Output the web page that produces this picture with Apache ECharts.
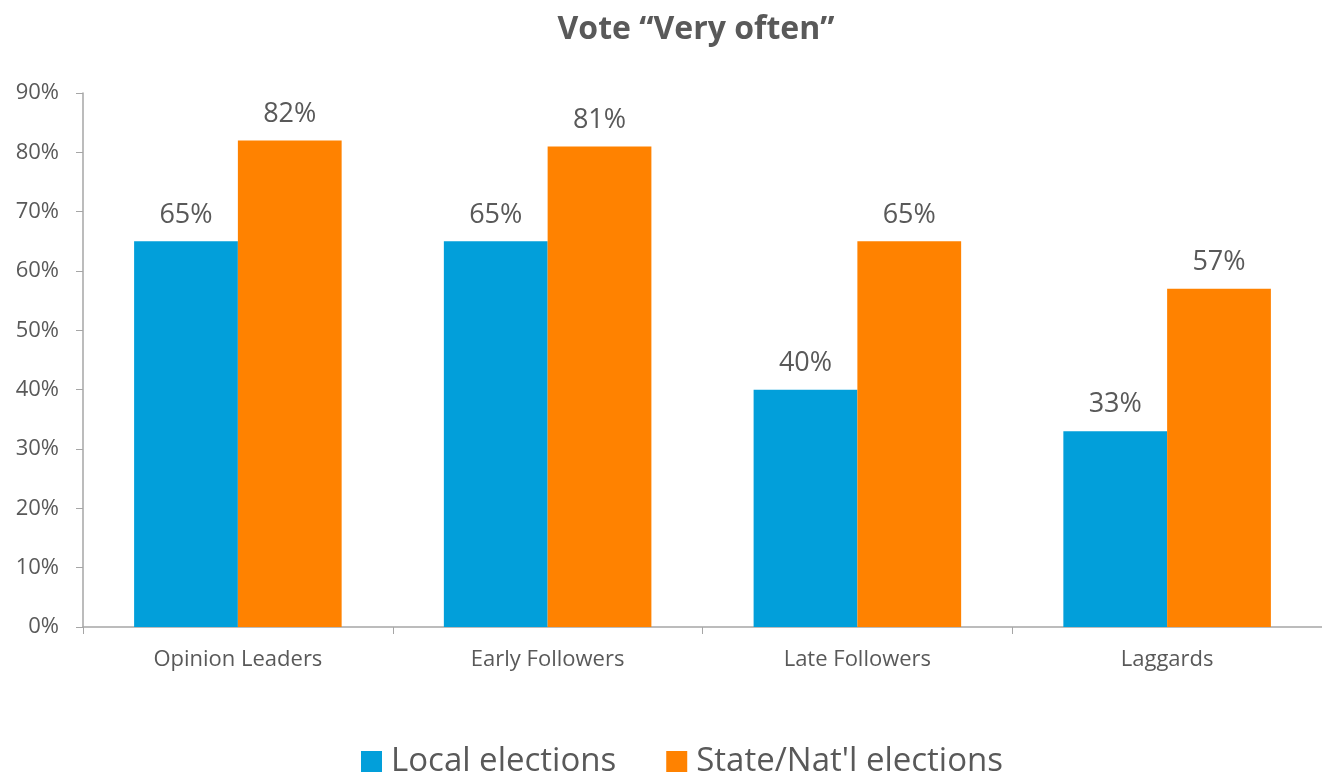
<!DOCTYPE html>
<html>
<head>
<meta charset="utf-8">
<script src="https://cdn.jsdelivr.net/npm/echarts@6/dist/echarts.min.js"></script>
<style>
  html, body { margin: 0; padding: 0; background: #fff; }
  #chart { width: 1322px; height: 775px; }
</style>
</head>
<body>
<div id="chart"></div>
<script>
let categories = ['Opinion Leaders', 'Early Followers', 'Late Followers', 'Laggards'];
let localElections = [65, 65, 40, 33];
let stateElections = [82, 81, 65, 57];
let seriesNames = ['Local elections', "State/Nat'l elections"];

let textColor = '#595959';
let font = '"Open Sans", "Noto Sans", sans-serif';

let myChart = echarts.init(document.getElementById('chart'));

let option = {
    animation: false,
    title: {
        text: 'Vote \u201cVery often\u201d',
        left: 691,
        textAlign: 'center',
        top: 9,
        textStyle: { fontFamily: font, fontSize: 32, fontWeight: 'bold', color: textColor }
    },
    legend: {
        top: 740,
        left: 356,
        itemWidth: 21,
        itemHeight: 21,
        itemGap: 50,
        icon: 'rect',
        textStyle: { fontFamily: font, fontSize: 33, color: textColor, padding: [0, 0, 0, 4] },
        data: seriesNames
    },
    grid: {
        left: 83,
        right: 0,
        top: 93,
        bottom: 148
    },
    xAxis: {
        type: 'category',
        data: categories,
        axisLine: { lineStyle: { color: '#a6a6a6', width: 1.5 } },
        axisTick: { show: true, length: 7, lineStyle: { color: '#a6a6a6' } },
        axisLabel: { fontFamily: font, fontSize: 22, color: textColor, margin: 22 }
    },
    yAxis: {
        type: 'value',
        min: 0,
        max: 90,
        interval: 10,
        splitLine: { show: false },
        axisLine: { show: true, lineStyle: { color: '#a6a6a6', width: 1.5 } },
        axisTick: { show: true, length: 7, lineStyle: { color: '#a6a6a6' } },
        axisLabel: { fontFamily: font, fontSize: 22, color: textColor, margin: 24, formatter: '{value}%' }
    },
    series: [
        {
            name: seriesNames[0],
            type: 'bar',
            data: localElections,
            barGap: '0%',
            barCategoryGap: '33%',
            itemStyle: { color: '#029FDA' },
            label: {
                show: true, position: 'top', distance: 13,
                formatter: '{c}%', fontFamily: font, fontSize: 27, color: textColor
            }
        },
        {
            name: seriesNames[1],
            type: 'bar',
            data: stateElections,
            itemStyle: { color: '#FF8200' },
            label: {
                show: true, position: 'top', distance: 13,
                formatter: '{c}%', fontFamily: font, fontSize: 27, color: textColor
            }
        }
    ]
};

myChart.setOption(option);
</script>
</body>
</html>
